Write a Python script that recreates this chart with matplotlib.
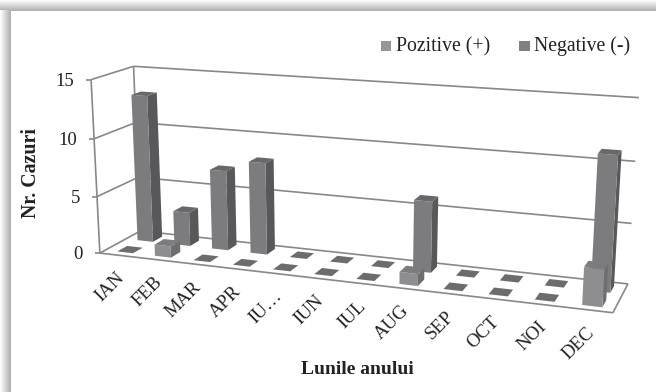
import numpy as np
import matplotlib
matplotlib.use('Agg')
import matplotlib.pyplot as plt
from matplotlib.patches import Polygon

months = ['IAN', 'FEB', 'MAR', 'APR', 'IU…', 'IUN', 'IUL', 'AUG', 'SEP', 'OCT', 'NOI', 'DEC']
pozitive = [0, 1, 0, 0, 0, 0, 0, 1, 0, 0, 0, 3]
negative = [13, 3, 7, 8, 0, 0, 0, 6, 0, 0, 0, 11]
y_ticks = [0, 5, 10, 15]

box_3d = np.array([[0, 0, 0], [12, 0, 0], [12, 1, 0], [0, 1, 0], [0, 0, 15], [0, 1, 15], [12, 1, 15],
                   [0, 0, 10], [0, 0, 5], [12, 1, 10], [12, 1, 5], [0, 1, 10], [0, 1, 5],
                   [0.5, .25, 0], [5.5, .25, 0], [10.5, .25, 0], [5.5, .75, 0], [10.5, .75, 0]], float)
box_px = np.array([[100, 253], [613, 314], [628, 283], [139, 232], [90, 80], [135, 66], [639, 98],
                   [94, 138], [97, 196], [635, 161], [632, 223], [136, 123], [137, 178],
                   [131, 249], [325, 272], [545, 298], [342, 258], [555, 283]], float)

A = []
b = []
for (u, d, v), (x, y) in zip(box_3d, box_px):
    A.append([u, d, v, 1, 0, 0, 0, 0, -x * u, -x * d, -x * v])
    b.append(x)
    A.append([0, 0, 0, 0, u, d, v, 1, -y * u, -y * d, -y * v])
    b.append(y)
P = np.append(np.linalg.lstsq(np.array(A), np.array(b), rcond=None)[0], 1).reshape(3, 4)


def proj(u, d, v):
    w = P @ np.array([u, d, v, 1.0])
    return w[0] / w[2], w[1] / w[2]


def line3(p, q, **kw):
    a = proj(*p)
    c = proj(*q)
    ax.plot([a[0], c[0]], [a[1], c[1]], solid_capstyle='butt', **kw)


def bar3(i, dc, val, cols):
    u0, u1 = i + 0.32, i + 0.74
    d0, d1 = dc - 0.12, dc + 0.12
    if val == 0:
        q = [proj(u0, d0, 0), proj(u1, d0, 0), proj(u1, d1, 0), proj(u0, d1, 0)]
        ax.add_patch(Polygon(q, fc='#6c6c6e', ec='none', zorder=3))
        return
    ax.add_patch(Polygon([proj(u1, d0, 0), proj(u1, d1, 0), proj(u1, d1, val), proj(u1, d0, val)],
                         fc=cols[1], ec='none', zorder=3))
    ax.add_patch(Polygon([proj(u0, d0, 0), proj(u1, d0, 0), proj(u1, d0, val), proj(u0, d0, val)],
                         fc=cols[0], ec='none', zorder=3))
    ax.add_patch(Polygon([proj(u0, d0, val), proj(u1, d0, val), proj(u1, d1, val), proj(u0, d1, val)],
                         fc=cols[2], ec='none', zorder=3))


plt.rcParams['font.family'] = ['Liberation Serif', 'DejaVu Sans']
fig = plt.figure(figsize=(6.56, 3.92), dpi=100)
ax = fig.add_axes([0, 0, 1, 1])
ax.set_xlim(0, 656)
ax.set_ylim(392, 0)
ax.axis('off')

# shadow of the frame
grad = np.linspace(1, 0.68, 32).reshape(-1, 1)
ax.imshow(grad, extent=(0, 656, 10.5, 0), cmap='gray', vmin=0, vmax=1, aspect='auto', zorder=0)
ax.imshow(grad.T, extent=(0, 10.5, 392, 10.5), cmap='gray', vmin=0, vmax=1, aspect='auto', zorder=0)
ax.set_xlim(0, 656)
ax.set_ylim(392, 0)

grid = dict(color='#88888a', lw=1.2)
for t in y_ticks:
    line3((0, 0, t), (0, 1, t), zorder=1, **grid)
    line3((0, 1, t), (12, 1, t), zorder=1, **grid)
    x, y = proj(0, 0, t)
    ax.plot([x - 5, x], [y, y], solid_capstyle='butt', zorder=1, **grid)
    ax.text(x - 17, y + 1.5, str(t), ha='right', va='center', fontsize=13.5, color='#222222')
line3((0, 0, 0), (0, 0, 15), zorder=1, **grid)
line3((0, 1, 0), (0, 1, 15), zorder=1, **grid)
line3((0, 0, 0), (12, 0, 0), zorder=1, **grid)
line3((12, 0, 0), (12, 1, 0), zorder=1, **grid)

for i, val in enumerate(negative):
    bar3(i, 0.75, val, ('#7c7c7f', '#58585a', '#68686a'))
for i, val in enumerate(pozitive):
    bar3(i, 0.25, val, ('#8e8e90', '#6e6e70', '#7c7c7e'))

for i, m in enumerate(months):
    x, y = proj(i + 0.5, 0, 0)
    ax.text(x - 3, y + 14, m, rotation=45, rotation_mode='anchor', ha='right', va='top',
            fontsize=13.5, color='#222222')

ax.text(357, 369, 'Lunile anului', ha='center', va='center', fontsize=14, fontweight='bold', color='#222222')
ax.text(31, 173, 'Nr. Cazuri', ha='center', va='center', rotation=90, fontsize=14.3, fontweight='bold',
        color='#222222')

ax.add_patch(Polygon([(381, 41), (391, 41), (391, 51), (381, 51)], fc='#969698', ec='none'))
ax.text(395.5, 51, 'Pozitive (+)', ha='left', va='baseline', fontsize=14.2, color='#222222')
ax.add_patch(Polygon([(519, 41), (530, 41), (530, 51), (519, 51)], fc='#808083', ec='none'))
ax.text(534, 51, 'Negative (-)', ha='left', va='baseline', fontsize=14.2, color='#222222')

fig.savefig('out.png', dpi=100)
